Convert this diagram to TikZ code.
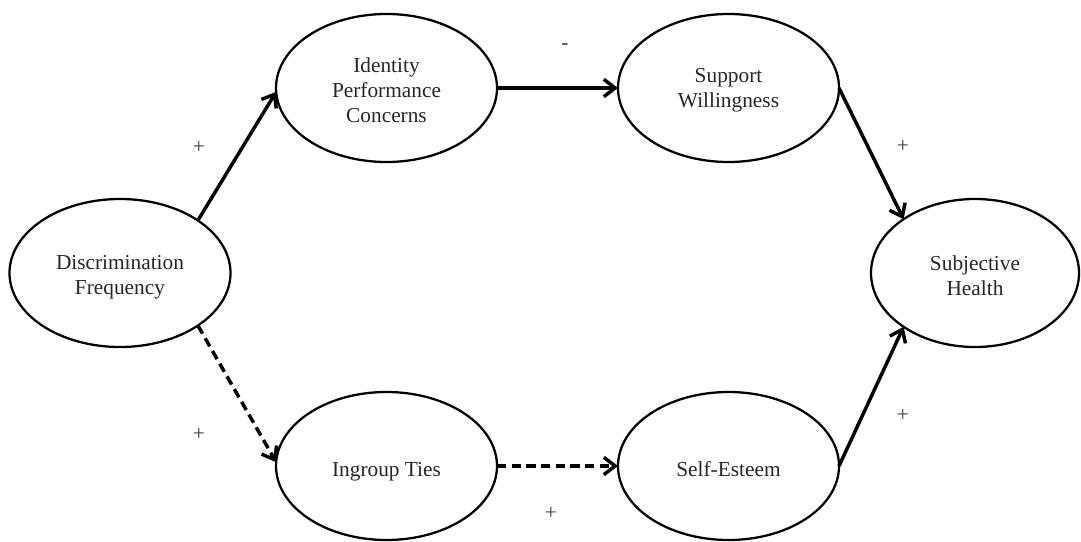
\documentclass[tikz,border=0pt]{standalone}
\usepackage{fontspec}
\setmainfont{Liberation Serif}
\usetikzlibrary{shapes.geometric,arrows.meta}
\begin{document}
\begin{tikzpicture}[x=0.75pt,y=-0.75pt,
  construct/.style={ellipse,draw,line width=1.7pt,inner sep=0pt,outer sep=0pt,
    minimum width=165.75pt,minimum height=111pt},
  txt/.style={align=center,inner sep=0pt,text=black!85,
    font=\fontsize{16}{18.75}\selectfont,yshift=-2pt},
  path/.style={line width=2.6pt,-{Straight Barb[length=8.5pt,width=13pt,line width=2.6pt]}},
  weak/.style={path,dash pattern=on 7pt off 4pt},
  sign/.style={font=\fontsize{16}{18.75}\selectfont,inner sep=0pt,text=black!75}]
\useasboundingbox (0,0) rectangle (1081,542);

% constructs, with their names set as centred labels
\node[construct,label={[txt,yshift=-1.5pt]center:Discrimination\\Frequency}] (disc) at (120,273) {};
\node[construct,label={[txt]center:Identity\\Performance\\Concerns}] (ipc) at (386.5,88) {};
\node[construct,label={[txt]center:Support\\Willingness}] (sup) at (728.5,88) {};
\node[construct,minimum width=156pt,label={[txt]center:Subjective\\Health}] (health) at (975,273) {};
\node[construct,label={[txt,yshift=-2pt]center:Ingroup Ties}] (ties) at (386.5,466) {};
\node[construct,label={[txt]center:Self-Esteem}] (est) at (728.5,466) {};

% paths
\draw[path] (disc.34.7) -- (ipc.182.5);
\draw[path] (ipc.east) -- (sup.west);
\draw[path] (sup.east) -- (health.143);
\draw[weak] (disc.-34) -- (ties.178.5);
\draw[weak] (ties.east) -- (est.west);
\draw[path] (est.east) -- (health.217);

% signs
\node[sign] (s1) at (199,147) {+};
\node[sign] (s2) at (565,47) {-};
\node[sign] (s3) at (903,146) {+};
\node[sign] (s4) at (199,434) {+};
\node[sign] (s5) at (551,513) {+};
\node[sign] (s6) at (903,415) {+};
\end{tikzpicture}
\end{document}
